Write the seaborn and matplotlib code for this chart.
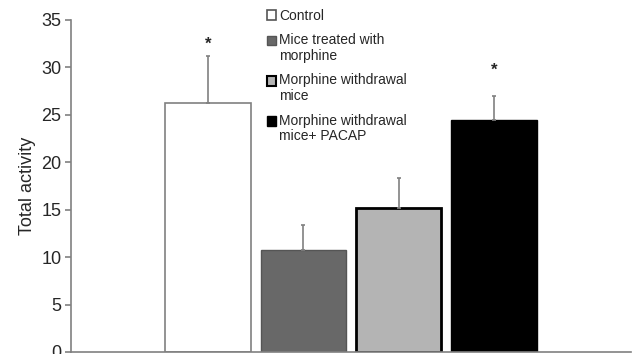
import numpy as np
import pandas as pd
import seaborn as sns
import matplotlib
matplotlib.use("Agg")
import matplotlib.pyplot as plt
from matplotlib.patches import Patch, Rectangle
from matplotlib.legend_handler import HandlerPatch

# data
groups = ["Control", "Mice treated with\nmorphine", "Morphine withdrawal\nmice",
          "Morphine withdrawal\nmice+ PACAP"]
means = [26.2, 10.8, 15.2, 24.5]
sds = [5.0, 2.6, 3.1, 2.5]
stars = ["*", "", "", "*"]
star_gap = [0.5, 0, 0, 1.9]
yticks = [0, 5, 10, 15, 20, 25, 30, 35]

fills = ["white", "#686868", "#b4b4b4", "black"]
edges = ["#808080", "#555555", "black", "black"]
edge_w = [1.2, 1.0, 2.0, 1.0]
grey = "#808080"

sns.set_style("white")
plt.rcParams["font.family"] = ["Liberation Sans", "DejaVu Sans"]

df = pd.DataFrame({"x": [""] * len(groups), "group": groups, "value": means})

fig = plt.figure(figsize=(6.4, 3.54), dpi=100)
ax = fig.add_axes([71 / 640, 2 / 354, 560 / 640, 332 / 354])

sns.barplot(data=df, x="x", y="value", hue="group", hue_order=groups,
            palette=fills, saturation=1, width=0.68, gap=0.1,
            legend=False, ax=ax)
ax.set_xlim(-0.5, 0.5)

bars = ax.patches[:len(groups)]
for bar, ec, lw, m, s, st, sg in zip(bars, edges, edge_w, means, sds, stars, star_gap):
    bar.set_edgecolor(ec)
    bar.set_linewidth(lw)
    cx = bar.get_x() + bar.get_width() / 2
    ax.errorbar(cx, m, yerr=[[0], [s]], fmt="none", ecolor=grey,
                elinewidth=1.2, capsize=1.5, capthick=1.2, zorder=3)
    if st:
        ax.text(cx, m + s + sg, st, ha="center", va="bottom", fontsize=12,
                fontweight="bold")

ax.set_ylim(0, 35)
ax.set_yticks(yticks)
ax.tick_params(axis="y", labelsize=13, length=4, width=1.2, color=grey,
               direction="out", left=True, pad=3)
ax.set_xticks([])
ax.set_xlabel("")
ax.set_ylabel("Total activity", fontsize=13, labelpad=4)
sns.despine(ax=ax)
for sp in ["left", "bottom"]:
    ax.spines[sp].set_color(grey)
    ax.spines[sp].set_linewidth(1.2)


# handles sit next to the first line of each label
def top_square(legend, orig_handle, xdescent, ydescent, width, height, fontsize):
    n = orig_handle.get_label().count("\n")
    return Rectangle((-xdescent, -ydescent + n * 0.58 * fontsize), width, height)


handles = []
for g, f, ec, lw in zip(groups, fills, edges, edge_w):
    handles.append(Patch(facecolor=f, edgecolor=ec if ec != "#808080" else "#555555",
                         linewidth=min(lw, 1.5), label=g))

leg = fig.legend(handles=handles, labels=groups, loc="upper left",
                 bbox_to_anchor=(267 / 640, 1 - 9 / 354), frameon=False,
                 fontsize=10, handlelength=0.65, handleheight=0.65,
                 handletextpad=0.2, labelspacing=0.75, borderpad=0, borderaxespad=0,
                 handler_map={Patch: HandlerPatch(patch_func=top_square)})
for t in leg.get_texts():
    t.set_linespacing(1.15)

fig.savefig("out.png", dpi=100)
